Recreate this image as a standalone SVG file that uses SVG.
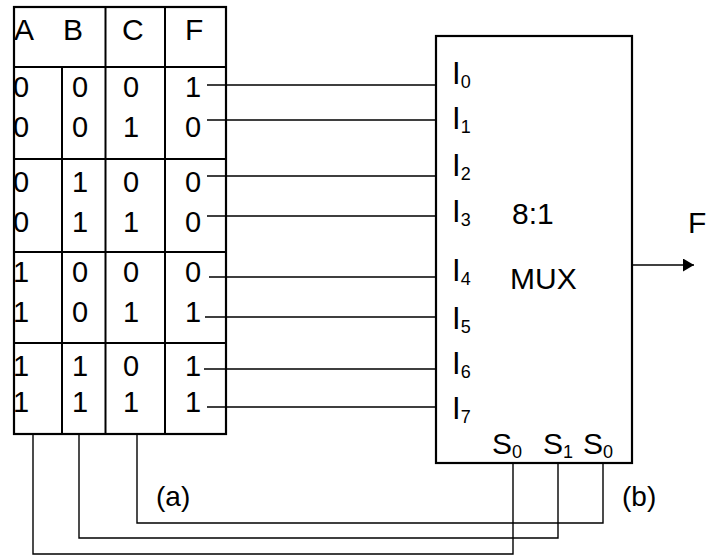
<svg xmlns="http://www.w3.org/2000/svg" width="707" height="556" viewBox="0 0 707 556">
<style>
text { font-family: "Liberation Sans", Arial, sans-serif; fill: #000; }
.d { font-size: 29px; }
.dm { font-size: 29px; text-anchor: middle; }
.h { font-size: 30px; }
.box { fill: #fff; stroke: #000; stroke-width: 2.2; }
.grid { fill: none; stroke: #000; stroke-width: 2; }
.ln { fill: none; stroke: #000; stroke-width: 1.4; }
.pin { font-size: 31px; }
.sub { font-size: 18px; }
.big { font-size: 30px; }
.cap { font-size: 28px; }
</style>
<defs>
<marker id="ah" markerUnits="userSpaceOnUse" markerWidth="12" markerHeight="14" refX="11" refY="6.5" orient="auto">
<path d="M0,0 L11,6.5 L0,13 z" fill="#000"/>
</marker>
</defs>

<g id="truth-table">
<rect class="box" x="14" y="7" width="212" height="427"/>
<path class="grid" d="M14,67 H226 M14,159 H226 M14,252 H226 M14,343 H226 M62,67 V434 M105.5,7 V434 M165,7 V434"/>
<text class="h" x="14" y="40">A</text>
<text class="h" x="63" y="40">B</text>
<text class="h" x="122" y="40">C</text>
<text class="h" x="185" y="40">F</text>
<g>
<text class="d" x="13" y="96.5">0</text><text class="dm" x="80" y="96.5">0</text><text class="dm" x="131" y="96.5">0</text><text class="dm" x="193" y="96.5">1</text>
<text class="d" x="13" y="137">0</text><text class="dm" x="80" y="137">0</text><text class="dm" x="131" y="137">1</text><text class="dm" x="193" y="137">0</text>
<text class="d" x="13" y="192">0</text><text class="dm" x="80" y="192">1</text><text class="dm" x="131" y="192">0</text><text class="dm" x="193" y="192">0</text>
<text class="d" x="13" y="231.5">0</text><text class="dm" x="80" y="231.5">1</text><text class="dm" x="131" y="231.5">1</text><text class="dm" x="193" y="231.5">0</text>
<text class="d" x="13" y="281.5">1</text><text class="dm" x="80" y="281.5">0</text><text class="dm" x="131" y="281.5">0</text><text class="dm" x="193" y="281.5">0</text>
<text class="d" x="13" y="322">1</text><text class="dm" x="80" y="322">0</text><text class="dm" x="131" y="322">1</text><text class="dm" x="193" y="322">1</text>
<text class="d" x="13" y="376">1</text><text class="dm" x="80" y="376">1</text><text class="dm" x="131" y="376">0</text><text class="dm" x="193" y="376">1</text>
<text class="d" x="13" y="412">1</text><text class="dm" x="80" y="412">1</text><text class="dm" x="131" y="412">1</text><text class="dm" x="193" y="412">1</text>
</g>
<text class="cap" x="156" y="506">(a)</text>
</g>

<g id="mux">
<rect class="box" x="436" y="36" width="196" height="427"/>
<text class="pin" x="452" y="84">I<tspan class="sub" dy="4">0</tspan></text>
<text class="pin" x="452" y="129">I<tspan class="sub" dy="4">1</tspan></text>
<text class="pin" x="452" y="176">I<tspan class="sub" dy="4">2</tspan></text>
<text class="pin" x="452" y="222">I<tspan class="sub" dy="4">3</tspan></text>
<text class="pin" x="452" y="281">I<tspan class="sub" dy="4">4</tspan></text>
<text class="pin" x="452" y="329">I<tspan class="sub" dy="4">5</tspan></text>
<text class="pin" x="452" y="374">I<tspan class="sub" dy="4">6</tspan></text>
<text class="pin" x="452" y="419">I<tspan class="sub" dy="4">7</tspan></text>
<text class="big" x="512" y="224">8:1</text>
<text class="big" x="510" y="289">MUX</text>
<text class="big" x="492" y="454">S<tspan class="sub" dy="4">0</tspan></text>
<text class="big" x="543" y="454">S<tspan class="sub" dy="4">1</tspan></text>
<text class="big" x="583" y="454">S<tspan class="sub" dy="4">0</tspan></text>
<text class="cap" x="622" y="506">(b)</text>
</g>

<g id="output-label">
<text class="big" x="688" y="233">F</text>
</g>

<g id="connectors">
<path class="ln" d="M207,85 H436 M207,120 H436 M207,176 H436 M207,216 H436 M209,277 H436 M205,317 H436 M204,369 H436 M207,407 H436"/>
<path class="ln" d="M632,265 H694" marker-end="url(#ah)"/>
<path class="ln" d="M33,434 V554 H513 V463"/>
<path class="ln" d="M79,434 V538 H558 V463"/>
<path class="ln" d="M137,434 V523 H603 V463"/>
</g>
</svg>
